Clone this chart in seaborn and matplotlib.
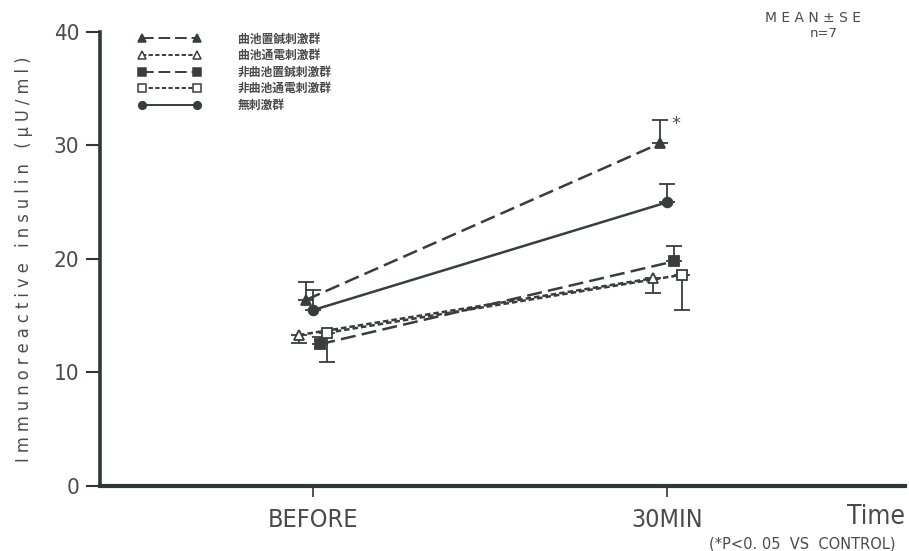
import matplotlib
matplotlib.use("Agg")
import matplotlib.pyplot as plt
from matplotlib.lines import Line2D
from matplotlib import font_manager
import seaborn as sns
import pandas as pd
import numpy as np

# Time points and group labels
times = ["BEFORE", "30MIN"]
groups = ["曲池置鍼刺激群", "曲池通電刺激群", "非曲池置鍼刺激群", "非曲池通電刺激群", "無刺激群"]

# Mean immunoreactive insulin (μU/ml) at BEFORE and 30MIN
mean_quchi_needle = [16.4, 30.2]
mean_quchi_electro = [13.3, 18.3]
mean_non_needle = [12.5, 19.8]
mean_non_electro = [13.5, 18.6]
mean_control = [15.5, 25.0]

# Standard errors
se_quchi_needle = [1.6, 2.0]
se_quchi_electro = [0.7, 1.3]
se_non_needle = [0.6, 1.3]
se_non_electro = [2.6, 3.1]
se_control = [1.8, 1.6]

means = [mean_quchi_needle, mean_quchi_electro, mean_non_needle, mean_non_electro, mean_control]
ses = [se_quchi_needle, se_quchi_electro, se_non_needle, se_non_electro, se_control]

ink = "#3a3d3d"
spine = "#2e3838"
txt = "#4a4a4a"

# marker, fill, line style, horizontal dodge, error-bar direction (+1 up, -1 down)
styles = [
    dict(marker="^", filled=True, ls=(0, (6, 2.5)), dodge=-0.020, side=+1),
    dict(marker="^", filled=False, ls=(0, (2.2, 1.2)), dodge=-0.040, side=-1),
    dict(marker="s", filled=True, ls=(0, (6, 2.5)), dodge=0.020, side=+1),
    dict(marker="s", filled=False, ls=(0, (2.2, 1.2)), dodge=0.040, side=-1),
    dict(marker="o", filled=True, ls="-", dodge=0.0, side=+1),
]

rows = []
for g, m, s, st in zip(groups, means, ses, styles):
    for i, t in enumerate(times):
        rows.append(dict(group=g, time=t, x=i + st["dodge"], mean=m[i], se=s[i]))
df = pd.DataFrame(rows)

sns.set_theme(style="white")
plt.rcParams["font.family"] = ["DejaVu Sans"]

# narrow face for the axis numbers and labels
narrow_names = {f.name for f in font_manager.fontManager.ttflist}
if "DejaVu Sans Condensed" in narrow_names:
    narrow = dict(family=["DejaVu Sans"], stretch="condensed")
elif "Liberation Sans Narrow" in narrow_names:
    narrow = dict(family=["Liberation Sans Narrow"])
else:
    narrow = dict(family=["DejaVu Sans"], stretch="condensed")

fig = plt.figure(figsize=(9.09, 5.51), dpi=100)
ax = fig.add_axes([0.110, 0.118, 0.886, 0.824])

for g, st in zip(groups, styles):
    d = df[df["group"] == g]
    sns.lineplot(data=d, x="x", y="mean", ax=ax, color=ink, linewidth=1.8,
                 linestyle=st["ls"], legend=False, errorbar=None)
    # one-sided SE bars
    if st["side"] > 0:
        yerr = [np.zeros(len(d)), d["se"].values]
    else:
        yerr = [d["se"].values, np.zeros(len(d))]
    ax.errorbar(d["x"], d["mean"], yerr=yerr, fmt="none", ecolor=ink,
                elinewidth=1.3, capsize=6, capthick=1.3, zorder=3)
    ax.plot(d["x"], d["mean"], linestyle="none", marker=st["marker"],
            markersize=7 if st["marker"] != "^" else 7.5,
            markerfacecolor=ink if st["filled"] else "white",
            markeredgecolor=ink, markeredgewidth=1.3, zorder=4)

# significance mark
ax.text(1 + styles[0]["dodge"] + 0.045, mean_quchi_needle[1] + se_quchi_needle[1] - 0.3,
        "*", ha="center", va="center", fontsize=13, color=txt)

ax.set_xlim(-0.602, 1.672)
ax.set_ylim(0, 40)
ax.set_xticks([0, 1])
ax.set_xticklabels(times, fontsize=18, color=txt, **narrow)
ax.set_yticks([0, 10, 20, 30, 40])
ax.set_yticklabels(["0", "10", "20", "30", "40"], fontsize=16, color=txt, **narrow)
ax.tick_params(axis="y", direction="out", length=10, width=1.5, color=spine, pad=5, left=True)
ax.tick_params(axis="x", direction="out", length=8, width=1.2, color=spine, pad=8, bottom=True)
ax.set_xlabel("")
ax.set_ylabel("I m m u n o r e a c t i v e   i n s u l i n   ( μ U / m l )",
              fontsize=13, color=txt, labelpad=15, **narrow)

for side in ["top", "right"]:
    ax.spines[side].set_visible(False)
ax.spines["left"].set_color(spine)
ax.spines["left"].set_linewidth(2.6)
ax.spines["bottom"].set_color(spine)
ax.spines["bottom"].set_linewidth(3.0)

fig.text(0.996, 0.062, "Time", ha="right", va="center", fontsize=19, color=txt, **narrow)
fig.text(0.985, 0.013, "(*P<0. 05  VS  CONTROL)", ha="right", va="center",
         fontsize=10.5, color=txt)
fig.text(0.894, 0.968, "M E A N ± S E", ha="center", va="center", fontsize=10,
         color=txt)
fig.text(0.906, 0.940, "n=7", ha="center", va="center", fontsize=9.5,
         color=txt)

handles = []
for st in styles:
    handles.append(Line2D([0], [0], color=ink, linestyle=st["ls"], linewidth=1.4,
                          marker=st["marker"], markersize=5.5,
                          markerfacecolor=ink if st["filled"] else "white",
                          markeredgecolor=ink, markeredgewidth=1.1))
leg = ax.legend(handles, groups, loc="upper left", bbox_to_anchor=(0.035, 1.022),
                frameon=False, handlelength=5.2, handletextpad=3.2,
                labelspacing=0.30, numpoints=2,
                prop={"family": ["Noto Sans CJK JP"], "size": 8.5, "weight": "bold"})
for t in leg.get_texts():
    t.set_color(txt)

fig.savefig("out.png", dpi=100)
